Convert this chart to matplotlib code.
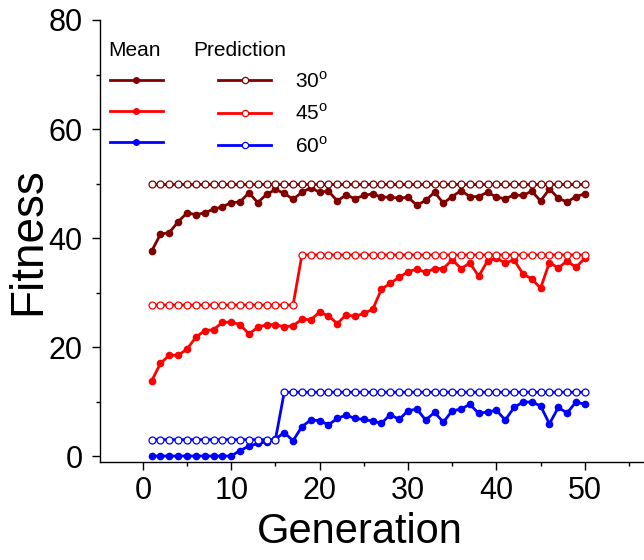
import matplotlib.pyplot as plt
import numpy as np
from matplotlib.lines import Line2D
from matplotlib.ticker import MultipleLocator

plt.rcParams["font.family"] = ["Liberation Sans", "DejaVu Sans"]
plt.rcParams["mathtext.fontset"] = "custom"
plt.rcParams["mathtext.rm"] = "Liberation Sans"

generation = np.arange(1, 51)

mean_30 = [37.6, 40.7, 41.0, 43.0, 44.6, 44.3, 44.6, 45.3, 45.7, 46.5,
           46.6, 48.3, 46.5, 48.0, 48.9, 48.2, 47.1, 48.4, 49.2, 48.4,
           48.6, 46.8, 47.9, 47.2, 47.8, 48.1, 47.5, 47.5, 47.3, 47.5,
           46.0, 46.9, 48.4, 46.4, 47.6, 48.7, 47.6, 47.6, 48.4, 47.5,
           47.2, 47.9, 47.8, 48.6, 46.8, 49.0, 47.3, 46.6, 47.6, 48.1]
mean_45 = [13.8, 17.0, 18.5, 18.5, 19.6, 21.8, 23.0, 23.2, 24.5, 24.6,
           24.1, 22.4, 23.6, 24.1, 24.1, 23.7, 23.9, 25.1, 25.0, 26.4,
           25.7, 24.3, 25.9, 25.6, 26.2, 26.9, 30.6, 31.7, 32.8, 33.8,
           34.3, 33.7, 34.4, 34.4, 36.0, 34.4, 35.4, 33.0, 35.8, 36.3,
           35.4, 36.0, 33.4, 32.5, 30.8, 35.5, 34.5, 35.8, 34.6, 36.3]
mean_60 = [0.0, 0.0, 0.0, 0.0, 0.0, 0.0, 0.0, 0.0, 0.0, 0.0,
           1.0, 1.8, 2.3, 2.6, 3.1, 4.3, 2.8, 5.4, 6.6, 6.5,
           5.7, 6.9, 7.5, 6.9, 6.7, 6.4, 6.0, 7.6, 6.7, 8.3,
           8.6, 6.6, 8.0, 6.2, 8.3, 8.6, 9.5, 7.8, 8.1, 8.4,
           6.6, 8.9, 9.9, 9.9, 9.2, 5.9, 8.9, 7.9, 9.9, 9.5]

# predicted fitness: constant levels with a single jump
pred_30 = [50.0] * 50
pred_45 = [27.7] * 17 + [36.9] * 33
pred_60 = [3.0] * 15 + [11.7] * 35

colors = ["#800000", "#ff0000", "#0000ff"]
angles = ["30", "45", "60"]
means = [mean_30, mean_45, mean_60]
preds = [pred_30, pred_45, pred_60]

fig = plt.figure(figsize=(6.44, 5.6), dpi=100)
ax = fig.add_axes([99.5 / 644, 1 - 462 / 560, 1 - 99.5 / 644, 442 / 560])

for m, c in zip(means, colors):
    ax.plot(generation, m, color=c, lw=2, marker="o", ms=4.5, mec=c, mfc=c)
for p, c in zip(preds, colors):
    ax.plot(generation, p, color=c, lw=2, marker="o", ms=5, mec=c, mfc="white", mew=0.9)

ax.set_xlim(-4.9, 56.7)
ax.set_ylim(-1.1, 80)
ax.xaxis.set_major_locator(MultipleLocator(10))
ax.xaxis.set_minor_locator(MultipleLocator(5))
ax.yaxis.set_major_locator(MultipleLocator(20))
ax.yaxis.set_minor_locator(MultipleLocator(10))
ax.tick_params(which="major", direction="out", length=6, width=1, labelsize=22)
ax.tick_params(axis="y", which="major", pad=6)
ax.tick_params(axis="x", which="major", pad=4)
ax.tick_params(which="minor", direction="out", length=3.2, width=1)
for s in ["top", "right"]:
    ax.spines[s].set_visible(False)
for s in ["left", "bottom"]:
    ax.spines[s].set_linewidth(1)

ax.set_xlabel("Generation", fontsize=30)
ax.set_ylabel("Fitness", fontsize=33)
ax.xaxis.set_label_coords(0.478, -0.112)
ax.yaxis.set_label_coords(-0.09, 0.5)

# legend: mean column (no labels) + prediction column
handles = [Line2D([], [], color=c, lw=2, marker="o", ms=4, mfc=c, mec=c) for c in colors]
handles += [Line2D([], [], color=c, lw=2, marker="o", ms=4.5, mfc="white", mec=c, mew=0.9) for c in colors]
labels = ["", "", ""] + [a + "$^\\mathrm{o}$" for a in angles]
ax.legend(handles, labels, ncol=2, frameon=False, fontsize=15, loc="upper left",
          bbox_to_anchor=(0.019, 0.885), borderpad=0, borderaxespad=0,
          handlelength=2.55, handletextpad=1.15, columnspacing=1.5, labelspacing=0.56)
fig.text(108 / 644, 1 - 50 / 560, "Mean", fontsize=15, va="center", ha="left")
fig.text(193 / 644, 1 - 50 / 560, "Prediction", fontsize=15, va="center", ha="left")

fig.savefig("out.png", dpi=100)
